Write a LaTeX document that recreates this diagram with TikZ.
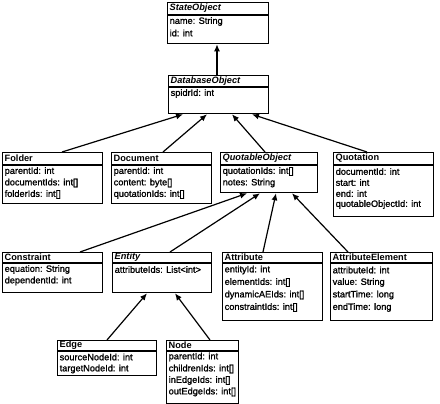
\documentclass[tikz,border=0pt]{standalone}
\usepackage{fontspec}
\setmainfont{Liberation Sans}
\newfontfamily\attrfont{Liberation Sans}[FakeBold=1.2]
\usetikzlibrary{arrows.meta}
\tikzset{
  box/.style={draw=black, line width=1.3pt, fill=white, inner sep=0pt},
  boxline/.style={draw=black, line width=1.2pt},
  hd/.style={anchor=west, inner sep=0pt, font=\fontsize{9.2}{11}\selectfont\bfseries},
  hdi/.style={hd, font=\fontsize{9.2}{11}\selectfont\bfseries\itshape},
  attr/.style={anchor=west, inner sep=0pt, font=\fontsize{9.2}{11}\attrfont},
  arr/.style={draw=black, line width=1.2pt, -{Latex[length=7pt,width=6pt]}}
}
% #1 name, #2 l, #3 t, #4 r, #5 b, #6 header line y, #7 header style, #8 header text
\newcommand\umlbox[8]{%
  \node[box, anchor=north west, minimum width={#4-#2}, minimum height={#5-#3}] (#1) at (#2,#3) {};
  \draw[boxline] (#2,#6) -- (#4,#6);
  \node[#7] (#1-hd) at ({#2+2.5},{(#3+#6)/2}) {#8};
}
\newcommand\attrline[4]{\node[attr] (#1) at ({#2+2.5},#3) {#4};}
\begin{document}
\begin{tikzpicture}[x=1pt,y=-1pt]
\useasboundingbox[fill=white] (0,0) rectangle (440,404);

\umlbox{so}{167}{2}{268}{43}{15}{hdi}{StateObject}
\attrline{so1}{167}{21.5}{name: String}
\attrline{so2}{167}{33}{id: int}

\umlbox{dbo}{168}{75}{268}{113}{87}{hdi}{DatabaseObject}
\attrline{dbo1}{168}{93.5}{spidrId: int}

\umlbox{fo}{2}{152}{102}{203}{165}{hd}{Folder}
\attrline{fo1}{2}{171.5}{parentId: int}
\attrline{fo2}{2}{183}{documentIds: int[]}
\attrline{fo3}{2}{194.5}{folderIds: int[]}

\umlbox{doc}{111}{152}{211}{203}{165}{hd}{Document}
\attrline{doc1}{111}{171.5}{parentId: int}
\attrline{doc2}{111}{183}{content: byte[]}
\attrline{doc3}{111}{194.5}{quotationIds: int[]}

\umlbox{qo}{220}{152}{317}{192}{165}{hdi}{QuotableObject}
\attrline{qo1}{220}{171.5}{quotationIds: int[]}
\attrline{qo2}{220}{183}{notes: String}

\umlbox{quo}{333}{152}{433}{216}{165}{hd}{Quotation}
\attrline{quo1}{333}{171.5}{documentId: int}
\attrline{quo2}{333}{182.5}{start: int}
\attrline{quo3}{333}{193.5}{end: int}
\attrline{quo4}{333}{204.5}{quotableObjectId: int}

\umlbox{con}{2}{252}{102}{292}{263}{hd}{Constraint}
\attrline{con1}{2}{269.5}{equation: String}
\attrline{con2}{2}{281}{dependentId: int}

\umlbox{ent}{112}{252}{211}{292}{263}{hdi}{Entity}
\attrline{ent1}{112}{269.5}{attributeIds: List<int>}

\umlbox{att}{222}{252}{322}{320}{263}{hd}{Attribute}
\attrline{att1}{222}{270}{entityId: int}
\attrline{att2}{222}{282.5}{elementIds: int[]}
\attrline{att3}{222}{295}{dynamicAEIds: int[]}
\attrline{att4}{222}{307.5}{constraintIds: int[]}

\umlbox{ae}{330}{252}{432}{320}{263}{hd}{AttributeElement}
\attrline{ae1}{330}{270}{attributeId: int}
\attrline{ae2}{330}{282.5}{value: String}
\attrline{ae3}{330}{295}{startTime: long}
\attrline{ae4}{330}{307.5}{endTime: long}

\umlbox{edge}{57}{340}{156}{375}{351}{hd}{Edge}
\attrline{edge1}{57}{357}{sourceNodeId: int}
\attrline{edge2}{57}{369}{targetNodeId: int}

\umlbox{nd}{166}{340}{238}{402.5}{351}{hd}{Node}
\attrline{nd1}{166}{357}{parentId: int}
\attrline{nd2}{166}{369}{childrenIds: int[]}
\attrline{nd3}{166}{380.5}{inEdgeIds: int[]}
\attrline{nd4}{166}{392}{outEdgeIds: int[]}

% generalisations
\draw[arr] ([xshift=49pt]dbo.north west) -- ([xshift=50pt]so.south west);
\draw[arr] ([xshift=60pt]fo.north west) -- ([xshift=15pt]dbo.south west);
\draw[arr] ([xshift=52pt]doc.north west) -- ([xshift=39pt]dbo.south west);
\draw[arr] ([xshift=45pt]qo.north west) -- ([xshift=64pt]dbo.south west);
\draw[arr] ([xshift=34pt]quo.north west) -- ([xshift=84pt]dbo.south west);
\draw[arr] ([xshift=78pt]con.north west) -- ([xshift=27pt]qo.south west);
\draw[arr] ([xshift=58pt]ent.north west) -- ([xshift=40pt]qo.south west);
\draw[arr] ([xshift=41pt]att.north west) -- ([xshift=56pt]qo.south west);
\draw[arr] ([xshift=18pt]ae.north west) -- ([xshift=72pt]qo.south west);
\draw[arr] ([xshift=50pt]edge.north west) -- ([xshift=35pt]ent.south west);
\draw[arr] ([xshift=44pt]nd.north west) -- ([xshift=63pt]ent.south west);
\end{tikzpicture}
\end{document}
